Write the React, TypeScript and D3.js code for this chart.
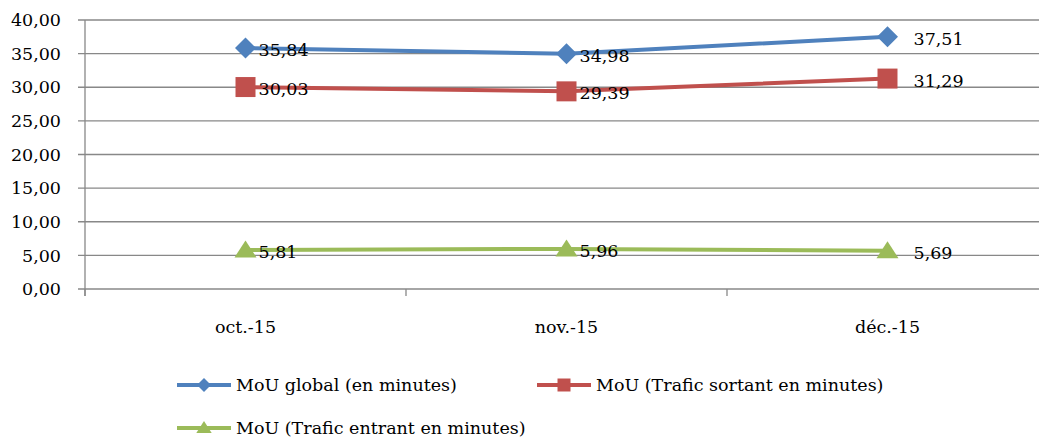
import { useRef, useEffect } from "react";
import * as d3 from "d3";

const categories = ["oct.-15", "nov.-15", "déc.-15"];
const seriesNames = [
  "MoU global (en minutes)",
  "MoU (Trafic sortant en minutes)",
  "MoU (Trafic entrant en minutes)",
];
const globalValues = [35.84, 34.98, 37.51];
const sortantValues = [30.03, 29.39, 31.29];
const entrantValues = [5.81, 5.96, 5.69];
const yTicks = [0, 5, 10, 15, 20, 25, 30, 35, 40];
const colors = ["#4F81BD", "#C0504D", "#9BBB59"];

const WIDTH = 1039;
const HEIGHT = 439;
const FONT = "'DejaVu Serif', serif";
const FS = 17.5;
const fmt = (v: number) => v.toFixed(2).replace(".", ",");

// marker shapes, r = half size
const marker = (s: number, r: number) => {
  if (s === 0) return `M0,${-r}L${r},0L0,${r}L${-r},0Z`;
  if (s === 1) return `M${-r},${-r}H${r}V${r}H${-r}Z`;
  return `M0,${-r * 0.85}L${r * 1.1},${r * 0.85}L${-r * 1.1},${r * 0.85}Z`;
};

export default function App() {
  const svgRef = useRef<SVGSVGElement>(null);

  useEffect(() => {
    if (!svgRef.current) return;
    const svg = d3.select(svgRef.current);
    svg.selectAll("*").remove();

    const left = 85;
    const right = 1048;
    const top = 20;
    const bottom = 289;

    const x = d3.scaleBand().domain(categories).range([left, right]);
    const y = d3.scaleLinear().domain([0, 40]).range([bottom, top]);

    // Grid
    svg.append("g")
      .selectAll("line")
      .data(yTicks)
      .join("line")
      .attr("x1", left - 7)
      .attr("x2", right)
      .attr("y1", (d) => y(d))
      .attr("y2", (d) => y(d))
      .attr("stroke", "#888")
      .attr("stroke-width", 1.3);

    // Y axis line
    svg.append("line")
      .attr("x1", left).attr("x2", left)
      .attr("y1", top).attr("y2", bottom + 7)
      .attr("stroke", "#888").attr("stroke-width", 1.3);

    // x ticks
    const xt = [...categories.map((c) => x(c)!), right];
    svg.append("g")
      .selectAll("line")
      .data(xt)
      .join("line")
      .attr("x1", (d) => d).attr("x2", (d) => d)
      .attr("y1", bottom).attr("y2", bottom + 7)
      .attr("stroke", "#888").attr("stroke-width", 1.3);

    // Y labels
    svg.append("g")
      .selectAll("text")
      .data(yTicks)
      .join("text")
      .attr("x", 61)
      .attr("y", (d) => y(d))
      .attr("dy", "0.35em")
      .attr("text-anchor", "end")
      .attr("font-family", FONT)
      .attr("font-size", FS)
      .attr("fill", "#000")
      .text((d) => fmt(d));

    // X labels
    svg.append("g")
      .selectAll("text")
      .data(categories)
      .join("text")
      .attr("x", (d) => x(d)! + x.bandwidth() / 2)
      .attr("y", 333)
      .attr("text-anchor", "middle")
      .attr("font-family", FONT)
      .attr("font-size", FS)
      .attr("fill", "#000")
      .text((d) => d);

    const series = [globalValues, sortantValues, entrantValues];
    const cx = (i: number) => x(categories[i])! + x.bandwidth() / 2;
    const line = d3.line<number>().x((_, i) => cx(i)).y((d) => y(d));

    series.forEach((vals, s) => {
      svg.append("path")
        .attr("d", line(vals))
        .attr("fill", "none")
        .attr("stroke", colors[s])
        .attr("stroke-width", 4);
    });

    series.forEach((vals, s) => {
      svg.append("g")
        .selectAll("path")
        .data(vals)
        .join("path")
        .attr("d", marker(s, s === 0 ? 10.5 : 10))
        .attr("transform", (d, i) => `translate(${cx(i)},${y(d) + (s === 2 ? -1 : 0)})`)
        .attr("fill", colors[s]);
    });

    // data labels (last category labels sit further right)
    const labelDx = [13, 13, 26];
    series.forEach((vals) => {
      svg.append("g")
        .selectAll("text")
        .data(vals)
        .join("text")
        .attr("x", (_, i) => cx(i) + labelDx[i])
        .attr("y", (d) => y(d) + 2)
        .attr("dy", "0.35em")
        .attr("font-family", FONT)
        .attr("font-size", FS)
        .attr("fill", "#000")
        .text((d) => fmt(d));
    });

    // Legend
    const legendPos = [
      { x: 177, y: 385 },
      { x: 537, y: 385 },
      { x: 177, y: 428 },
    ];
    seriesNames.forEach((name, s) => {
      const p = legendPos[s];
      const g = svg.append("g").attr("transform", `translate(${p.x},${p.y})`);
      g.append("line")
        .attr("x1", 0).attr("x2", 54)
        .attr("y1", 0).attr("y2", 0)
        .attr("stroke", colors[s]).attr("stroke-width", 4);
      g.append("path")
        .attr("d", marker(s, s === 1 ? 6.5 : 7))
        .attr("transform", `translate(27,${s === 2 ? -1 : 0})`)
        .attr("fill", colors[s]);
      g.append("text")
        .attr("x", 59)
        .attr("y", 0)
        .attr("dy", "0.35em")
        .attr("font-family", FONT)
        .attr("font-size", FS)
        .attr("fill", "#000")
        .text(name);
    });
  }, []);

  return (
    <svg
      ref={svgRef}
      width={WIDTH}
      height={HEIGHT}
      style={{ position: "absolute", left: 0, top: 0, background: "#fff" }}
    />
  );
}
